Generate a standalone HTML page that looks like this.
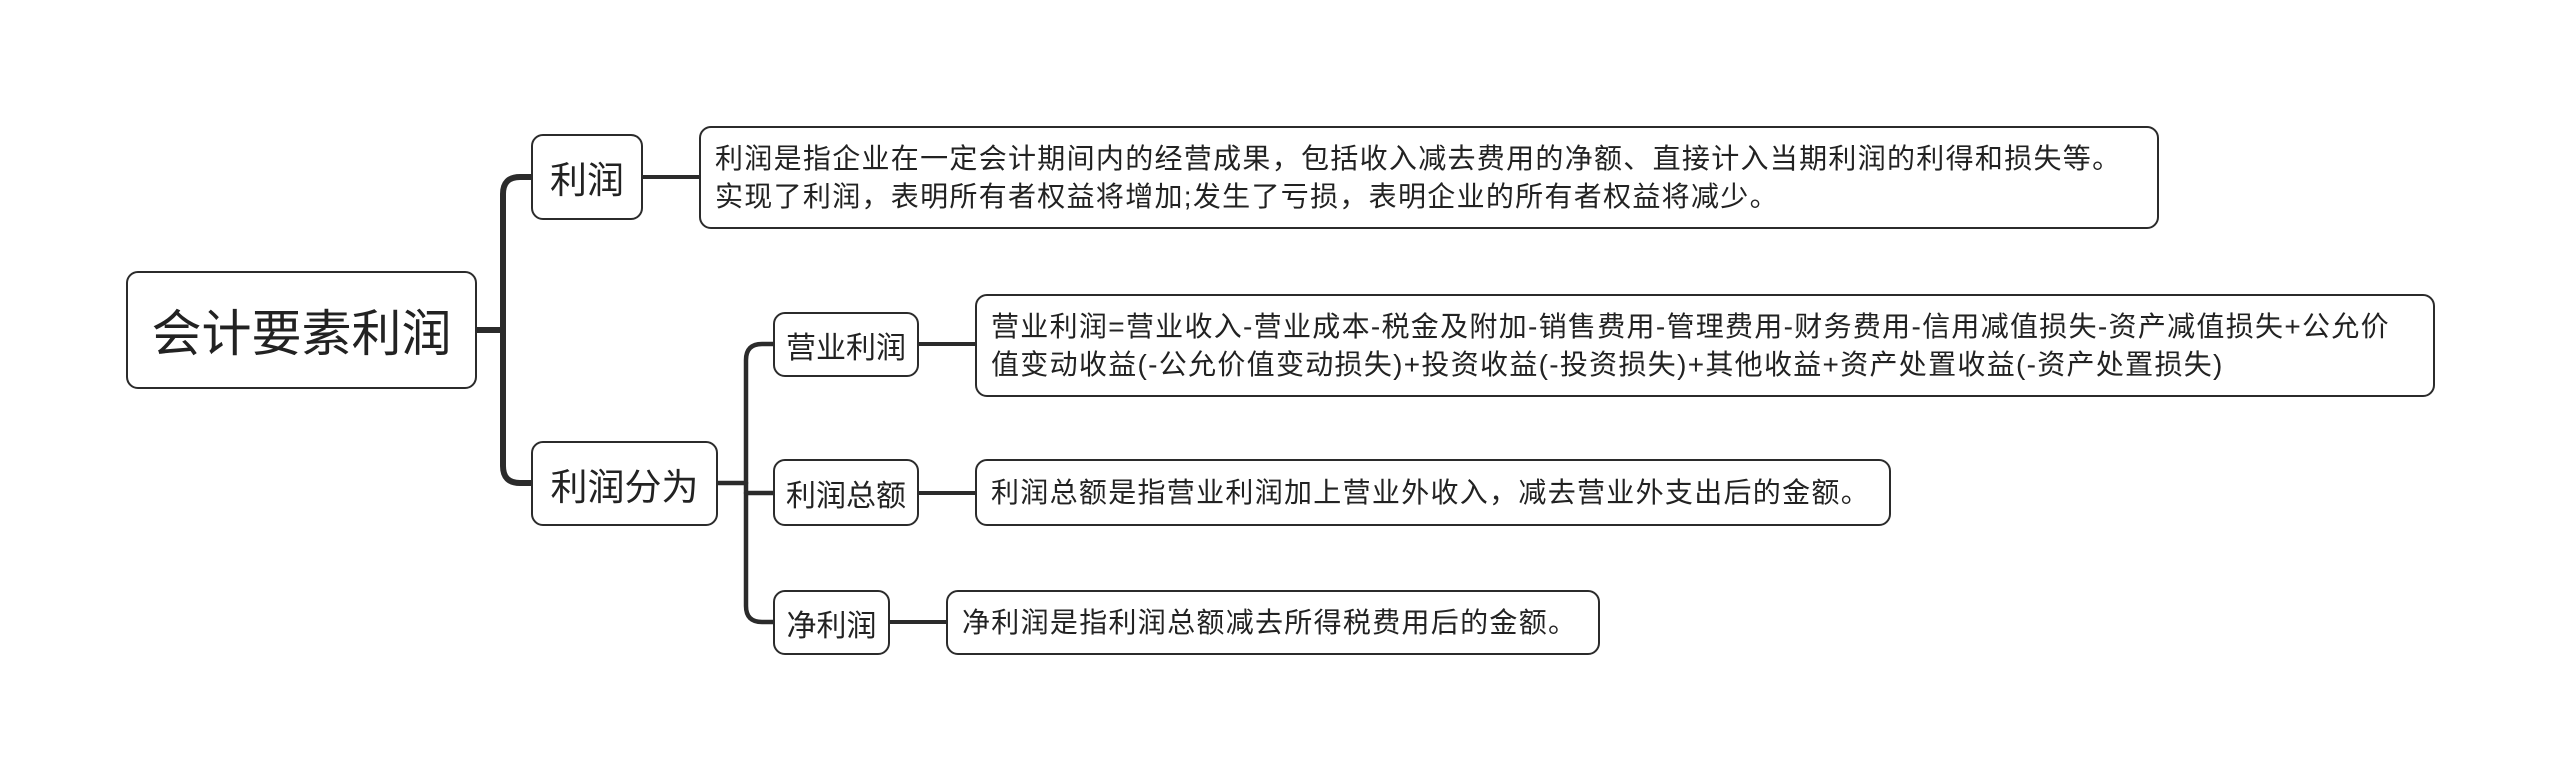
<!DOCTYPE html>
<html><head><meta charset="utf-8"><style>
body{margin:0;width:2560px;height:781px;background:#fff;position:relative;overflow:hidden;font-family:"Liberation Sans","Noto Sans CJK SC",sans-serif;color:#222}
.b{position:absolute;box-sizing:border-box;border:2.5px solid #2b2b2b;border-radius:12px;background:#fff;display:flex;align-items:center;white-space:nowrap}
.c{justify-content:center}
.d{padding-left:14px;font-size:28px;line-height:38px;letter-spacing:1.3px}
svg{position:absolute;left:0;top:0}
</style></head><body>
<svg width="2560" height="781">
<g fill="none" stroke="#2b2b2b" stroke-linecap="round">
<path d="M477 330 H503" stroke-width="6"/>
<path d="M531 177 H520 Q503 177 503 194 V466 Q503 483 520 483 H531" stroke-width="6"/>
<path d="M643 177 H699" stroke-width="4"/>
<path d="M718 483 H746" stroke-width="4.5"/>
<path d="M773 344 H762 Q746 344 746 360 V606 Q746 622 762 622 H773" stroke-width="4.5"/>
<path d="M746 493 H773" stroke-width="4.5"/>
<path d="M919 344 H975" stroke-width="4"/>
<path d="M919 493 H975" stroke-width="4"/>
<path d="M890 622 H946" stroke-width="4"/>
</g></svg>
<div class="b c" style="left:126px;top:271px;width:351px;height:118px;font-size:50px">会计要素利润</div>
<div class="b c" style="left:531px;top:134px;width:112px;height:86px;font-size:37px">利润</div>
<div class="b c" style="left:531px;top:441px;width:187px;height:85px;font-size:37px">利润分为</div>
<div class="b c" style="left:773px;top:312px;width:146px;height:65px;font-size:30px">营业利润</div>
<div class="b c" style="left:773px;top:459px;width:146px;height:67px;font-size:30px">利润总额</div>
<div class="b c" style="left:773px;top:590px;width:117px;height:65px;font-size:30px">净利润</div>
<div class="b d" style="left:699px;top:126px;width:1460px;height:103px"><div>利润是指企业在一定会计期间内的经营成果，包括收入减去费用的净额、直接计入当期利润的利得和损失等。<br>实现了利润，表明所有者权益将增加;发生了亏损，表明企业的所有者权益将减少。</div></div>
<div class="b d" style="left:975px;top:294px;width:1460px;height:103px"><div>营业利润=营业收入-营业成本-税金及附加-销售费用-管理费用-财务费用-信用减值损失-资产减值损失+公允价<br>值变动收益(-公允价值变动损失)+投资收益(-投资损失)+其他收益+资产处置收益(-资产处置损失)</div></div>
<div class="b d" style="left:975px;top:459px;width:916px;height:67px">利润总额是指营业利润加上营业外收入，减去营业外支出后的金额。</div>
<div class="b d" style="left:946px;top:590px;width:654px;height:65px">净利润是指利润总额减去所得税费用后的金额。</div>
</body></html>
